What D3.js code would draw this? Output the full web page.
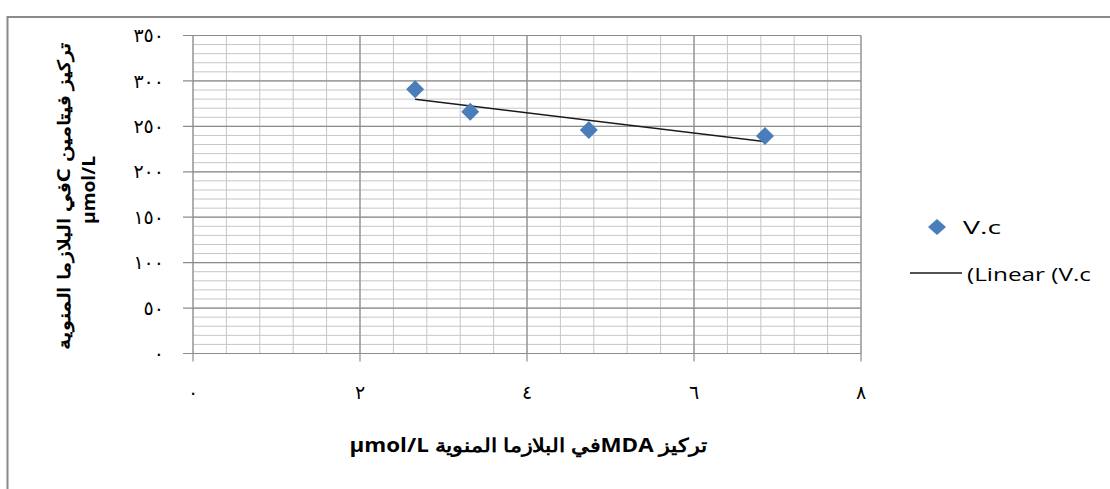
<!DOCTYPE html>
<html>
<head>
<meta charset="utf-8">
<script src="https://cdn.jsdelivr.net/npm/d3@7"></script>
<style>
  html, body { margin: 0; padding: 0; background: #fff; }
  svg { display: block; }
</style>
</head>
<body>
<svg id="chart" width="1110" height="489"></svg>
<script>
// MDA concentration (x) and vitamin C concentration (y) in seminal plasma
const mdaValues = [2.66, 3.32, 4.74, 6.85];
const vitaminC = [290.8, 266.1, 246.0, 239.4];

// Axis ticks and their Arabic-Indic labels
const xTicks = [0, 2, 4, 6, 8];
const xTickLabels = ["٠", "٢", "٤", "٦", "٨"];
const yTicks = [0, 50, 100, 150, 200, 250, 300, 350];
const yTickLabels = ["٠", "٥٠", "١٠٠", "١٥٠", "٢٠٠", "٢٥٠", "٣٠٠", "٣٥٠"];

const seriesName = "V.c";
const trendName = "(Linear (V.c";
const xTitle = "تركيز MDAفي البلازما المنوية µmol/L";
const yTitle = "تركيز فيتامين Cفي البلازما المنوية";
const yUnit = "µmol/L";

const svg = d3.select("#chart");

const x = d3.scaleLinear().domain([0, 8]).range([193, 861]);
const y = d3.scaleLinear().domain([0, 350]).range([353.5, 35.5]);

// Outer chart frame
svg.append("rect")
  .attr("x", 7.5).attr("y", 17)
  .attr("width", 1120).attr("height", 500)
  .attr("fill", "none")
  .attr("stroke", "#8a8a8a")
  .attr("stroke-width", 2);

const grid = svg.append("g");

// Minor gridlines
grid.selectAll(".vminor")
  .data(d3.range(0, 8.001, 0.4))
  .join("line")
  .attr("x1", d => x(d)).attr("x2", d => x(d))
  .attr("y1", y(0)).attr("y2", y(350))
  .attr("stroke", "#c6c6c6").attr("stroke-width", 1);

grid.selectAll(".hminor")
  .data(d3.range(0, 350.001, 10))
  .join("line")
  .attr("x1", x(0)).attr("x2", x(8))
  .attr("y1", d => y(d)).attr("y2", d => y(d))
  .attr("stroke", "#c6c6c6").attr("stroke-width", 1);

// Major gridlines and tick marks
grid.selectAll(".vmajor")
  .data(xTicks)
  .join("line")
  .attr("x1", d => x(d)).attr("x2", d => x(d))
  .attr("y1", y(0) + 8).attr("y2", y(350))
  .attr("stroke", "#8c8c8c").attr("stroke-width", 1.2);

grid.selectAll(".hmajor")
  .data(yTicks)
  .join("line")
  .attr("x1", x(0) - 10).attr("x2", x(8))
  .attr("y1", d => y(d)).attr("y2", d => y(d))
  .attr("stroke", "#8c8c8c").attr("stroke-width", 1.2);

// Tick labels
const digitFont = "'DejaVu Sans', 'Noto Sans', sans-serif";
svg.append("g").selectAll("text")
  .data(yTicks)
  .join("text")
  .attr("x", 164)
  .attr("y", d => y(d))
  .attr("dy", "0.35em")
  .attr("text-anchor", "end")
  .attr("font-family", digitFont)
  .attr("font-size", 19)
  .attr("letter-spacing", 3)
  .attr("fill", "#000")
  .text((d, i) => yTickLabels[i]);

svg.append("g").selectAll("text")
  .data(xTicks)
  .join("text")
  .attr("x", d => x(d))
  .attr("y", 392)
  .attr("dy", "0.35em")
  .attr("text-anchor", "middle")
  .attr("font-family", digitFont)
  .attr("font-size", 19)
  .attr("fill", "#000")
  .text((d, i) => xTickLabels[i]);

// Least-squares trendline across the observed MDA range
const mx = d3.mean(mdaValues), my = d3.mean(vitaminC);
const sxy = d3.sum(mdaValues, (v, i) => (v - mx) * (vitaminC[i] - my));
const sxx = d3.sum(mdaValues, v => (v - mx) * (v - mx));
const slope = sxy / sxx;
const intercept = my - slope * mx;
const xExt = d3.extent(mdaValues);

svg.append("line")
  .attr("x1", x(xExt[0])).attr("y1", y(intercept + slope * xExt[0]))
  .attr("x2", x(xExt[1])).attr("y2", y(intercept + slope * xExt[1]))
  .attr("stroke", "#1a1a1a").attr("stroke-width", 1.5);

// Diamond markers
const diamond = (cx, cy, w, h) =>
  `M${cx},${cy - h}L${cx + w},${cy}L${cx},${cy + h}L${cx - w},${cy}Z`;

svg.append("g").selectAll("path")
  .data(mdaValues)
  .join("path")
  .attr("d", (d, i) => diamond(x(d), y(vitaminC[i]), 9, 9))
  .attr("fill", "#4a7ebb");

// Legend
const textFont = "'Open Sans', 'Liberation Sans', sans-serif";
svg.append("path")
  .attr("d", diamond(937, 227, 9, 8))
  .attr("fill", "#4a7ebb");
svg.append("text")
  .attr("x", 963).attr("y", 234)
  .attr("font-family", textFont).attr("font-size", 19)
  .attr("textLength", 38).attr("lengthAdjust", "spacingAndGlyphs")
  .attr("fill", "#000")
  .text(seriesName);

svg.append("line")
  .attr("x1", 910).attr("x2", 962)
  .attr("y1", 273).attr("y2", 273)
  .attr("stroke", "#1a1a1a").attr("stroke-width", 1.5);
svg.append("text")
  .attr("x", 967).attr("y", 281)
  .attr("font-family", textFont).attr("font-size", 19)
  .attr("textLength", 124).attr("lengthAdjust", "spacingAndGlyphs")
  .attr("fill", "#000")
  .text(trendName);

// Axis titles
svg.append("text")
  .attr("x", 528).attr("y", 452)
  .attr("text-anchor", "middle")
  .attr("direction", "rtl")
  .attr("font-family", textFont).attr("font-size", 19)
  .attr("font-weight", "bold")
  .attr("textLength", 357).attr("lengthAdjust", "spacingAndGlyphs")
  .attr("fill", "#000")
  .text(xTitle);

svg.append("text")
  .attr("transform", "translate(70,196) rotate(-90)")
  .attr("text-anchor", "middle")
  .attr("direction", "rtl")
  .attr("font-family", textFont).attr("font-size", 17)
  .attr("font-weight", "bold")
  .attr("textLength", 308).attr("lengthAdjust", "spacingAndGlyphs")
  .attr("fill", "#000")
  .text(yTitle);

svg.append("text")
  .attr("transform", "translate(95,190) rotate(-90)")
  .attr("text-anchor", "middle")
  .attr("font-family", textFont).attr("font-size", 18)
  .attr("font-weight", "bold")
  .attr("textLength", 68).attr("lengthAdjust", "spacingAndGlyphs")
  .attr("fill", "#000")
  .text(yUnit);
</script>
</body>
</html>
